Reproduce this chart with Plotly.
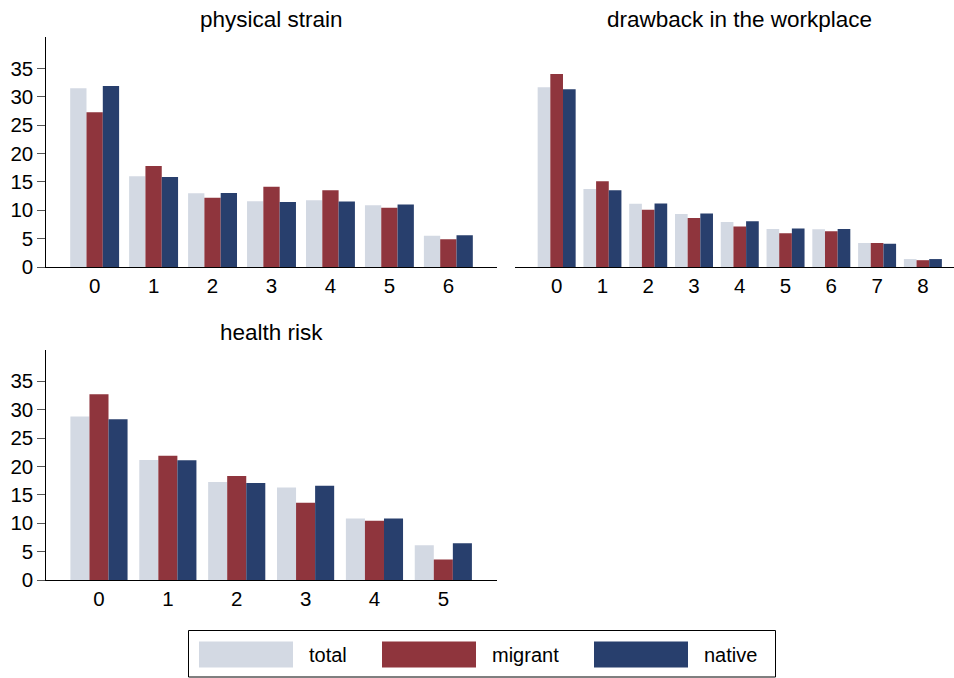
import plotly.graph_objects as go

W, H = 954, 678
FONT = "Liberation Sans, Arial, Helvetica, sans-serif"

# series
series_names = ["total", "migrant", "native"]
series_colors = ["#D3D9E3", "#8F353D", "#283F6D"]

# panel 1: physical strain
strain_cats = [0, 1, 2, 3, 4, 5, 6]
strain_total = [31.5, 16.0, 13.0, 11.6, 11.75, 10.9, 5.5]
strain_migrant = [27.3, 17.8, 12.2, 14.15, 13.55, 10.45, 4.9]
strain_native = [31.9, 15.85, 13.05, 11.45, 11.55, 11.0, 5.6]

# panel 2: drawback in the workplace
drawback_cats = [0, 1, 2, 3, 4, 5, 6, 7, 8]
drawback_total = [31.7, 13.75, 11.15, 9.35, 7.95, 6.7, 6.65, 4.25, 1.4]
drawback_migrant = [34.05, 15.1, 10.1, 8.65, 7.15, 5.95, 6.3, 4.25, 1.2]
drawback_native = [31.35, 13.55, 11.2, 9.45, 8.05, 6.8, 6.7, 4.1, 1.4]

# panel 3: health risk
health_cats = [0, 1, 2, 3, 4, 5]
health_total = [28.8, 21.15, 17.25, 16.3, 10.85, 6.1]
health_migrant = [32.7, 21.9, 18.3, 13.6, 10.45, 3.6]
health_native = [28.3, 21.1, 17.1, 16.6, 10.85, 6.45]

y_ticks = [0, 5, 10, 15, 20, 25, 30, 35]

panels = [
    dict(title="physical strain", cats=strain_cats,
         values=[strain_total, strain_migrant, strain_native],
         xd=(46.3, 496.7), yd=(37.3, 267.0), xr=(-0.82, 6.82), yaxis_shown=True),
    dict(title="drawback in the workplace", cats=drawback_cats,
         values=[drawback_total, drawback_migrant, drawback_native],
         xd=(515.0, 954.0), yd=(37.3, 267.0), xr=(-0.91, 8.68), yaxis_shown=False),
    dict(title="health risk", cats=health_cats,
         values=[health_total, health_migrant, health_native],
         xd=(46.3, 496.7), yd=(350.0, 580.0), xr=(-0.765, 5.775), yaxis_shown=True),
]


def px_x(v):
    return v / W


def px_y(v):
    return 1 - v / H


fig = go.Figure()
layout = dict(
    width=W, height=H, autosize=False,
    margin=dict(l=0, r=0, t=0, b=0, pad=0, autoexpand=False),
    paper_bgcolor="white", plot_bgcolor="white",
    barmode="group", bargap=0.17, bargroupgap=0,
    showlegend=False,
    font=dict(family=FONT, size=20, color="black"),
)

annotations = []
shapes = []

for i, p in enumerate(panels, start=1):
    xa = "x" if i == 1 else f"x{i}"
    ya = "y" if i == 1 else f"y{i}"
    for name, color, vals in zip(series_names, series_colors, p["values"]):
        fig.add_trace(go.Bar(
            x=p["cats"], y=vals, name=name, xaxis=xa, yaxis=ya,
            marker=dict(color=color, line=dict(width=0)),
            hoverinfo="x+y+name",
        ))
    xkey = "xaxis" if i == 1 else f"xaxis{i}"
    ykey = "yaxis" if i == 1 else f"yaxis{i}"
    layout[xkey] = dict(
        domain=[px_x(p["xd"][0]), px_x(p["xd"][1])],
        range=list(p["xr"]), anchor=ya, automargin=False,
        tickmode="array", tickvals=p["cats"], ticktext=[str(c) for c in p["cats"]],
        showline=True, linecolor="black", linewidth=1,
        ticks="",
        showgrid=False, zeroline=False, fixedrange=True,
        tickfont=dict(family=FONT, size=20.5, color="black"),
    )
    layout[ykey] = dict(
        domain=[px_y(p["yd"][1]), px_y(p["yd"][0])],
        range=[0, 40.5], anchor=xa, automargin=False,
        tickmode="array", tickvals=y_ticks,
        showline=p["yaxis_shown"], linecolor="black", linewidth=1,
        showticklabels=p["yaxis_shown"],
        ticks="outside" if p["yaxis_shown"] else "", ticklen=8,
        tickcolor="#555555", tickwidth=1,
        showgrid=False, zeroline=False, fixedrange=True,
        tickfont=dict(family=FONT, size=20.5, color="black"),
    )
    annotations.append(dict(
        text=p["title"], xref="paper", yref="paper",
        x=px_x((p["xd"][0] + p["xd"][1]) / 2) if i != 2 else px_x(739.5),
        y=px_y(p["yd"][0] - 18), xanchor="center", yanchor="middle",
        showarrow=False, font=dict(family=FONT, size=22.5, color="black"),
    ))

# legend box drawn below the panels
legend_box = (188.5, 630.5, 775.5, 677.0)
shapes.append(dict(
    type="rect", xref="paper", yref="paper",
    x0=px_x(legend_box[0]), x1=px_x(legend_box[2]),
    y0=px_y(legend_box[3]), y1=px_y(legend_box[1]),
    line=dict(color="black", width=1), fillcolor="white", layer="below",
))
swatch_left = [199, 382, 594]
swatch_w, swatch_top, swatch_bot = 94, 641.5, 667.5
for name, color, sx in zip(series_names, series_colors, swatch_left):
    shapes.append(dict(
        type="rect", xref="paper", yref="paper",
        x0=px_x(sx), x1=px_x(sx + swatch_w),
        y0=px_y(swatch_bot), y1=px_y(swatch_top),
        line=dict(width=0), fillcolor=color,
    ))
    annotations.append(dict(
        text=name, xref="paper", yref="paper",
        x=px_x(sx + swatch_w + 14), y=px_y((swatch_top + swatch_bot) / 2),
        xanchor="left", yanchor="middle", showarrow=False,
        font=dict(family=FONT, size=20, color="black"),
    ))

layout["annotations"] = annotations
layout["shapes"] = shapes
fig.update_layout(**layout)

# the figure fills the page exactly: drop the default body margin
page_js = (
    "document.body.style.margin='0';"
    "document.documentElement.style.overflow='hidden';"
)
fig.write_html("out.html", post_script=page_js)
